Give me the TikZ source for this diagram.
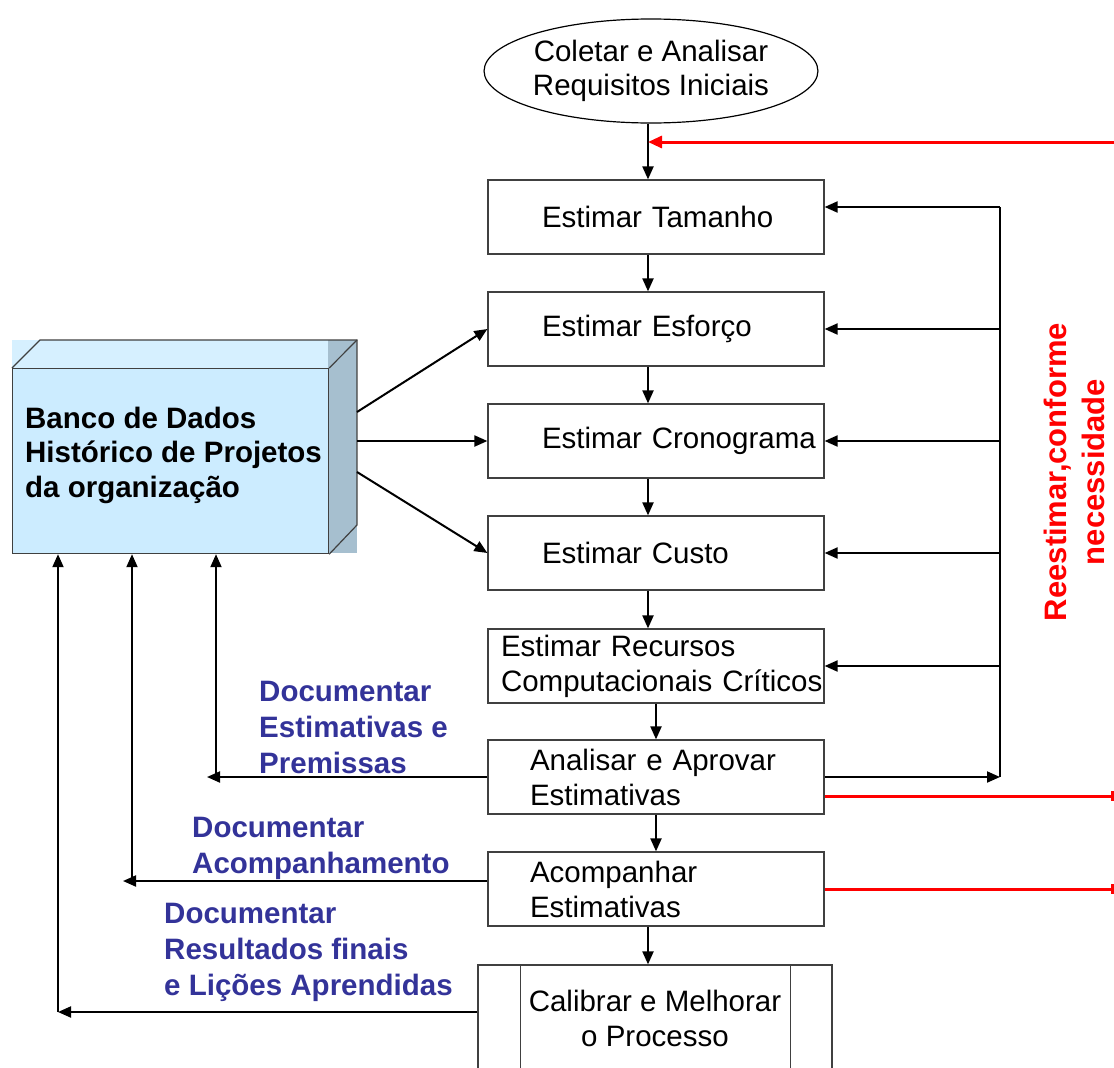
\documentclass[tikz,border=0pt]{standalone}
\usepackage{fontspec}
\setmainfont{Liberation Sans}
\usetikzlibrary{arrows.meta,calc,shapes.geometric}
\definecolor{frontblue}{RGB}{204,236,255}
\definecolor{topblue}{RGB}{214,240,255}
\definecolor{sideblue}{RGB}{166,191,207}
\definecolor{labblue}{RGB}{51,51,153}
\definecolor{outl}{RGB}{64,64,64}
\begin{document}
\begin{tikzpicture}[x=1pt,y=-1pt,
 box/.style={draw=outl, line width=1.2pt, fill=white, minimum height=74pt, text width=336pt, inner xsep=0pt, inner ysep=0pt, align=left, font=\fontsize{29.5}{35}\selectfont},
 conn/.style={line width=2pt, -{Triangle[length=13pt,width=11pt]}},
 plain/.style={line width=2pt},
 redarr/.style={red, line width=3pt, -{Triangle[length=14pt,width=12pt]}},
 redbar/.style={red, line width=3pt, -{Bar[width=10pt]}},
 lab/.style={labblue, font=\bfseries\fontsize{29.5}{36}\selectfont, align=left, anchor=west, inner sep=0pt}
]
\useasboundingbox (0,0) rectangle (1114,1068);

% cube
\fill[topblue] (12,340) rectangle (328,368);
\fill[sideblue] (328,340) rectangle (357,553);
\node[draw=outl, line width=1.2pt, fill=frontblue, minimum width=316pt, minimum height=185pt, inner sep=0pt, anchor=north west] (db) at (12,368) {};
\draw[outl, line width=1.2pt] (db.north west) -- (40,340) -- (357,340) -- (357,525) -- (db.south east);
\draw[outl, line width=1.2pt] (db.north east) -- (357,340);
\node[anchor=west, align=left, font=\bfseries\fontsize{29.5}{34.5}\selectfont, inner sep=0pt] (dbt) at (25,455) {Banco de Dados\\Histórico de Projetos\\da organização};

% process
\node[ellipse, draw=black, line width=1.2pt, minimum width=330pt, minimum height=104pt, align=center, inner sep=0pt, font=\fontsize{29.5}{34}\selectfont] (ell) at (651,71) {Coletar e Analisar\\Requisitos Iniciais};
\node[box] (tam) at (656,217) {\hspace*{54pt}Estimar Tamanho};
\node[box] (esf) at (656,329) {\hspace*{54pt}Estimar Esforço};
\node[box] (cro) at (656,441) {\hspace*{54pt}Estimar Cronograma};
\node[box] (cus) at (656,553) {\hspace*{54pt}Estimar Custo};
\node[box] (rec) at (656,666) {\hspace*{13pt}Estimar Recursos\\\hspace*{13pt}Computacionais Críticos};
\node[box] (ana) at (656,777) {\hspace*{42pt}Analisar e Aprovar\\\hspace*{42pt}Estimativas};
\node[box] (aco) at (656,889) {\hspace*{42pt}Acompanhar\\\hspace*{42pt}Estimativas};
\node[draw=outl, line width=1.2pt, fill=white, minimum width=354pt, minimum height=107pt, align=center, inner sep=0pt, font=\fontsize{29.5}{35}\selectfont] (cal) at (655,1018.5) {Calibrar e Melhorar\\o Processo};
\draw[outl, line width=1.2pt] ($(cal.north west)+(43,0)$) -- ($(cal.south west)+(43,0)$);
\draw[outl, line width=1.2pt] ($(cal.north east)+(-42,0)$) -- ($(cal.south east)+(-42,0)$);

% db arrows
\coordinate (d1) at (357,412);
\coordinate (d2) at (357,441);
\coordinate (d3) at (357,472);
\draw[conn] (d1) -- (esf.west);
\draw[conn] (d2) -- (cro.west);
\draw[conn] (d3) -- (cus.west);

% main flow
\coordinate (xa) at (648,0);
\draw[conn] (ell.south -| xa) -- (tam.north -| xa);
\draw[conn] (tam.south -| xa) -- (esf.north -| xa);
\draw[conn] (esf.south -| xa) -- (cro.north -| xa);
\draw[conn] (cro.south -| xa) -- (cus.north -| xa);
\draw[conn] (cus.south -| xa) -- (rec.north -| xa);
\draw[conn] (rec.south) -- (ana.north);
\draw[conn] (ana.south) -- (aco.north);
\draw[conn] (aco.south -| xa) -- (cal.north -| xa);

% red top arrow
\coordinate (rt) at (1114,142);
\draw[redarr] (rt) -- (rt -| xa);

% right feedback
\coordinate (fb) at (1000,777);
\coordinate (ft) at (1000,207);
\draw[conn] (ana.east) -- (fb);
\draw[plain] (fb) -- (ft);
\draw[conn] (ft) -- (ft -| tam.east);
\draw[conn] (ft |- esf.east) -- (esf.east);
\draw[conn] (ft |- cro.east) -- (cro.east);
\draw[conn] (ft |- cus.east) -- (cus.east);
\draw[conn] (ft |- rec.east) -- (rec.east);

% red bars
\coordinate (r2) at (1114,796);
\coordinate (r3) at (1114,889);
\draw[redbar] (r2 -| ana.east) -- (r2);
\draw[redbar] (aco.east) -- (r3);

% left feedback
\coordinate (l1) at (207,777);
\coordinate (v1) at (216,777);
\draw[conn] (ana.west) -- (l1);
\draw[conn] (v1) -- (v1 |- db.south);
\coordinate (l2) at (123,881);
\coordinate (v2) at (132,881);
\draw[conn] (l2 -| aco.west) -- (l2);
\draw[conn] (v2) -- (v2 |- db.south);
\coordinate (l3) at (58,1012);
\draw[conn] (l3 -| cal.west) -- (l3);
\draw[conn] (l3) -- (l3 |- db.south);

% labels
\node[lab] (lb1) at (259,727) {Documentar\\Estimativas e\\Premissas};
\node[lab] (lb2) at (192,848) {Documentar\\Acompanhamento};
\node[lab] (lb3) at (164,952) {Documentar\\Resultados finais\\e Lições Aprendidas};
\node[red, rotate=90, align=center, font=\bfseries\fontsize{31}{38}\selectfont, inner sep=0pt] (re) at (1074,472) {Reestimar,conforme\\necessidade};
\end{tikzpicture}
\end{document}
